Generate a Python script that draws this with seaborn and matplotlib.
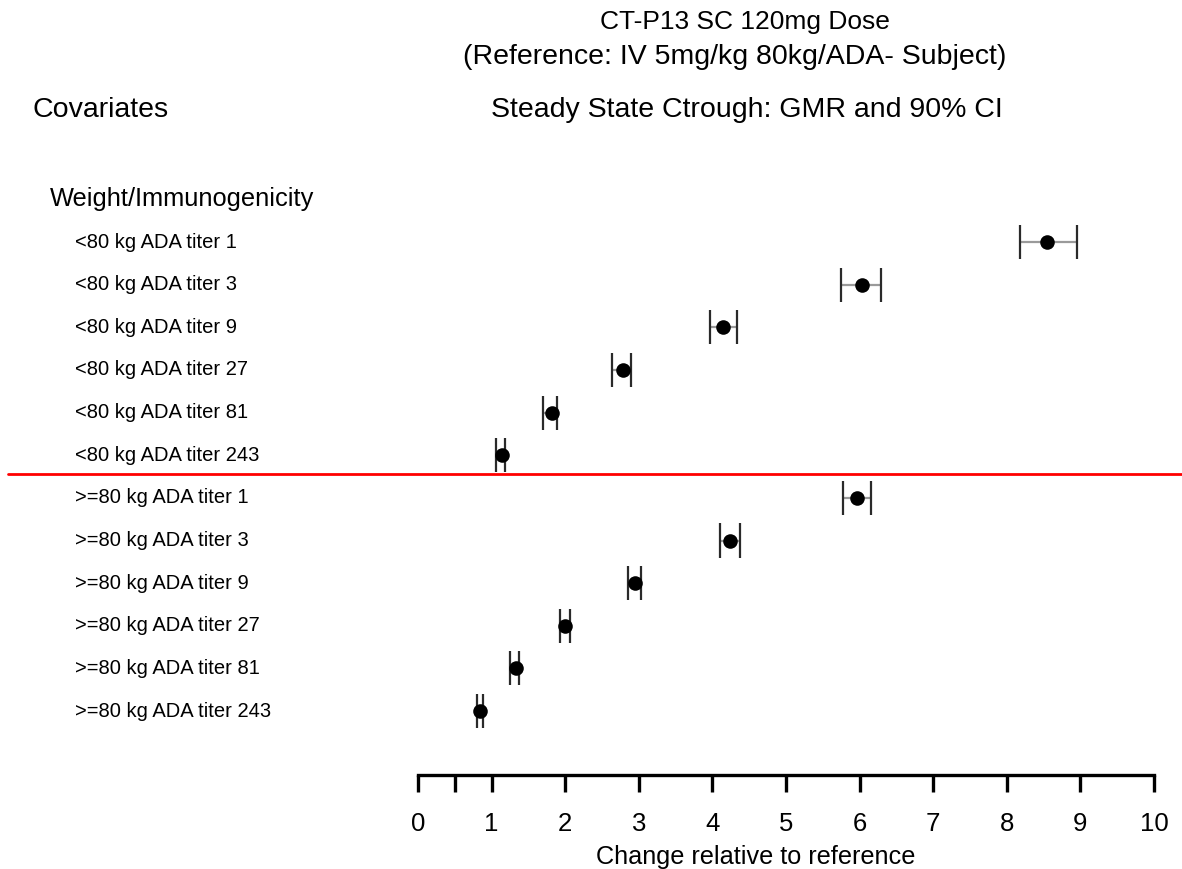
import matplotlib
matplotlib.use("Agg")
import matplotlib.pyplot as plt
import matplotlib.transforms as mtransforms
import seaborn as sns
import pandas as pd
import numpy as np

# ---- data ----
labels = [
    "<80 kg ADA titer 1", "<80 kg ADA titer 3", "<80 kg ADA titer 9",
    "<80 kg ADA titer 27", "<80 kg ADA titer 81", "<80 kg ADA titer 243",
    ">=80 kg ADA titer 1", ">=80 kg ADA titer 3", ">=80 kg ADA titer 9",
    ">=80 kg ADA titer 27", ">=80 kg ADA titer 81", ">=80 kg ADA titer 243",
]
gmr = [8.55, 6.03, 4.14, 2.78, 1.82, 1.14, 5.97, 4.24, 2.95, 2.00, 1.33, 0.84]
ci_low = [8.18, 5.75, 3.97, 2.64, 1.70, 1.06, 5.78, 4.10, 2.86, 1.93, 1.25, 0.80]
ci_high = [8.96, 6.29, 4.34, 2.90, 1.89, 1.18, 6.16, 4.37, 3.03, 2.07, 1.37, 0.88]
x_ticks = [0, 0.5, 1, 2, 3, 4, 5, 6, 7, 8, 9, 10]
x_ticklabels = ["0", "", "1", "2", "3", "4", "5", "6", "7", "8", "9", "10"]
group_header = "Weight/Immunogenicity"

df = pd.DataFrame({"label": labels, "gmr": gmr, "lo": ci_low, "hi": ci_high})
df["row"] = np.arange(len(df))

sns.set_theme(style="white")
plt.rcParams["font.family"] = ["Liberation Sans", "DejaVu Sans"]
plt.rcParams["text.color"] = "black"
plt.rcParams["xtick.color"] = "black"

W, H = 1182, 869
fig = plt.figure(figsize=(W / 100, H / 100), dpi=100)
ax_left, ax_right = 418 / W, 1154 / W
ax_bottom, ax_top = 1 - 775 / H, 1 - 150 / H
ax = fig.add_axes([ax_left, ax_bottom, ax_right - ax_left, ax_top - ax_bottom])

# CI lines and caps
ax.hlines(df["row"], df["lo"], df["hi"], color="#9a9a9a", lw=1.6, zorder=1)
ax.vlines(df["lo"], df["row"] - 0.4, df["row"] + 0.4, color="#2a2a2a", lw=1.6, zorder=2)
ax.vlines(df["hi"], df["row"] - 0.4, df["row"] + 0.4, color="#2a2a2a", lw=1.6, zorder=2)
sns.scatterplot(data=df, x="gmr", y="row", ax=ax, color="black", s=110,
                edgecolor="black", linewidth=0, zorder=3, legend=False)

ax.set_xlim(0, 10)
ax.set_ylim(12.5, -2.16)
ax.set_yticks([])
ax.set_ylabel("")
ax.set_xlabel("")
for s in ["top", "right", "left"]:
    ax.spines[s].set_visible(False)
ax.spines["bottom"].set_linewidth(2.4)
ax.spines["bottom"].set_color("black")
ax.set_xticks(x_ticks)
ax.set_xticklabels(x_ticklabels)
ax.tick_params(axis="x", direction="out", length=12.5, width=2.4, color="black",
               labelsize=18.5, pad=14, bottom=True, labelcolor="black")

# row labels
trans = mtransforms.blended_transform_factory(ax.transAxes, ax.transData)
lab_x = (75 - 418) / 736
for r, lab in zip(df["row"], df["label"]):
    ax.text(lab_x, r, lab, transform=trans, ha="left", va="center", fontsize=14.5)
ax.text((50 - 418) / 736, -1, group_header, transform=trans, ha="left",
        va="center", fontsize=18.3)

# separator
ax.axhline(5.45, xmin=(8 - 418) / 736, xmax=(1182 - 418) / 736, color="#ff0000",
           lw=2, clip_on=False, zorder=0)

# titles
fig.text(745 / W, 1 - 22 / H, "CT-P13 SC 120mg Dose", ha="center", va="center", fontsize=19)
fig.text(735 / W, 1 - 57 / H, "(Reference: IV 5mg/kg 80kg/ADA- Subject)", ha="center",
         va="center", fontsize=20.5)
fig.text(747 / W, 1 - 110 / H, "Steady State Ctrough: GMR and 90% CI", ha="center",
         va="center", fontsize=20.5)
fig.text(33 / W, 1 - 110 / H, "Covariates", ha="left", va="center", fontsize=20.5)
fig.text(756 / W, 1 - 857 / H, "Change relative to reference", ha="center",
         va="center", fontsize=18.2)

fig.savefig("out.png", dpi=100)
